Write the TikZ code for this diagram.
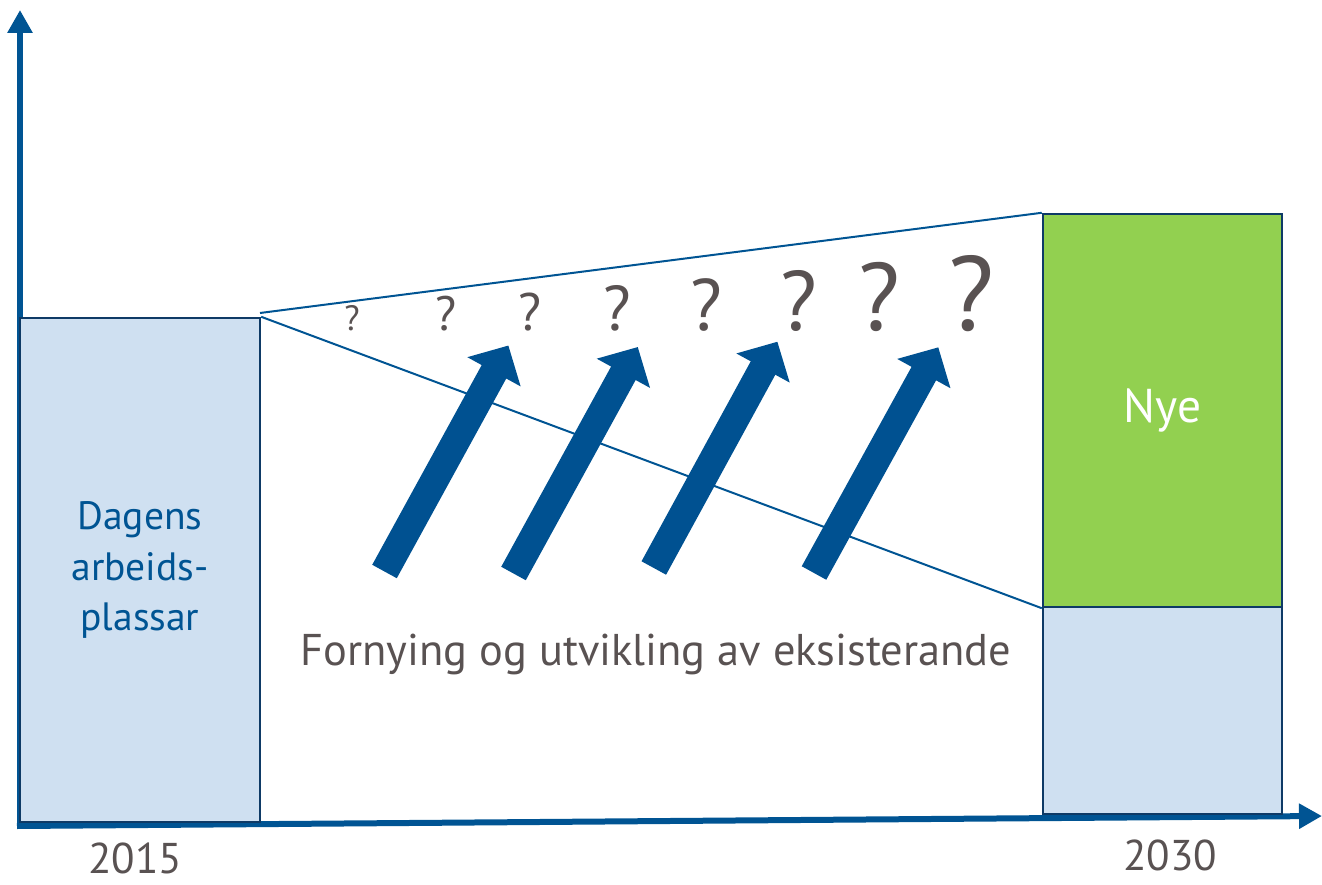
\documentclass[tikz,border=0pt]{standalone}
\usepackage{fontspec}
\setmainfont{PT Sans}
\usetikzlibrary{arrows.meta}
\definecolor{axisblue}{RGB}{0,84,147}
\definecolor{arrowblue}{RGB}{0,81,145}
\definecolor{boxnavy}{RGB}{14,58,102}
\definecolor{lightfill}{RGB}{207,224,241}
\definecolor{newgreen}{RGB}{146,208,80}
\definecolor{textgrey}{RGB}{89,82,82}
\begin{document}
\begin{tikzpicture}[x=0.02cm, y=-0.02cm,
    axis/.style={line width=0.12cm, axisblue, -{Triangle[width=0.48cm, length=0.46cm]}},
    box/.style={draw=boxnavy, line width=0.05cm, inner sep=0pt},
    fanline/.style={axisblue, line width=0.04cm},
    bigarrow/.style={arrowblue, line width=0.56cm, -{Triangle[width=1.18cm, length=0.6cm]}},
    qmark/.style={anchor=base, text=textgrey, font=\fontsize{#1}{#1}\selectfont, inner sep=0pt},
    year/.style={anchor=base, text=textgrey, font=\fontsize{24.5}{30}\selectfont, inner sep=0pt}]
    \useasboundingbox (0,0) rectangle (1322,885);
    % axes
    \draw[axis] (20,829) -- (20,10);
    \draw[axis] (17,826) -- (1322,816);
    % bars
    \node[box, fill=lightfill, minimum width=4.8cm, minimum height=10.08cm, text=axisblue, align=center,
        font=\fontsize{22.5}{28.5}\selectfont] (today) at (140,570) {Dagens\\arbeids-\\plassar};
    \node[box, fill=newgreen, minimum width=4.78cm, minimum height=7.86cm, text=white,
        font=\fontsize{27}{30}\selectfont] (nye) at (1162.5,410.5) {Nye};
    \node[box, fill=lightfill, minimum width=4.78cm, minimum height=4.14cm] (rest) at (1162.5,710.5) {};
    % fan
    \coordinate (fan) at (260,313);
    \draw[fanline] (fan) -- (nye.north west);
    \draw[fanline] (today.north east) -- (nye.south west);
    % question marks
    \foreach \x/\s in {352/20, 446/27.5, 530/30, 617/36, 706/41.5, 799/48, 879/54.5, 971/60}
        \node[qmark=\s] (q\x) at (\x,331) {?};
    % growth arrows
    \foreach \a/\b/\c/\d in {384.5/571.5/508.4/345.5, 513.5/573.5/637.8/347, 653.8/568/777.4/341.7, 814/573/938.3/347.3}
        \draw[bigarrow] (\a,\b) -- (\c,\d);
    % labels
    \node[anchor=base, text=textgrey, font=\fontsize{25.3}{30}\selectfont] (renew) at (656,665) {Fornying og utvikling av eksisterande};
    \node[year] (start) at (135,873) {2015};
    \node[year] (end) at (1170,870) {2030};
\end{tikzpicture}
\end{document}
